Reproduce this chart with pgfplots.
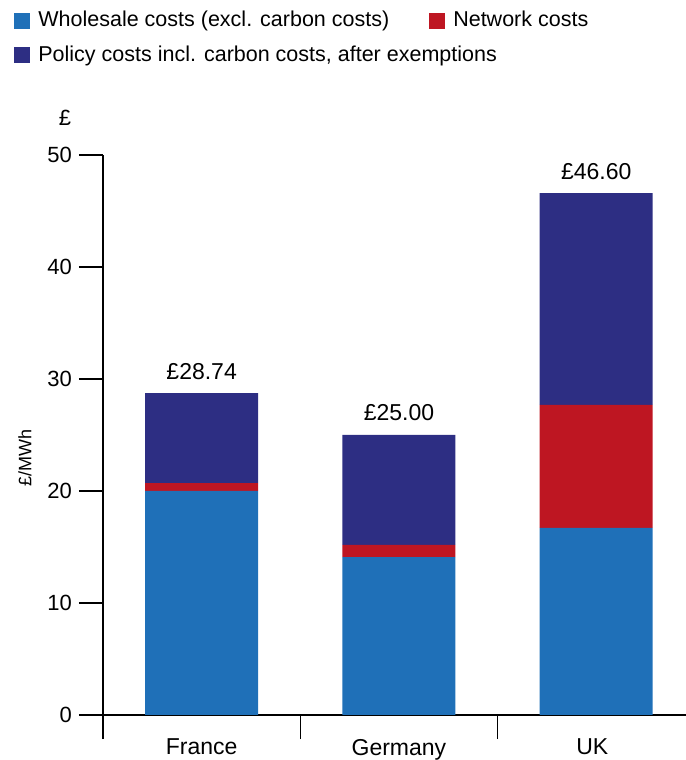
\documentclass[border=0pt]{standalone}
\usepackage{pgfplots}
\pgfplotsset{compat=1.18}
\usepackage{fontspec}
\setmainfont{Liberation Sans}

\definecolor{wholesale}{RGB}{31,112,184}
\definecolor{network}{RGB}{190,22,34}
\definecolor{policy}{RGB}{45,46,131}

\begin{document}
\begin{tikzpicture}
  \begin{axis}[name=ax,
    width=292pt, height=280pt, scale only axis,
    ybar stacked, bar width=56.5pt,
    xmin=-0.5, xmax=2.46, ymin=0, ymax=50,
    axis x line=bottom, axis y line=left,
    axis line style={-, black, line width=0.6pt},
    tick align=outside, major tick length=12pt,
    tick style={black, line width=0.6pt},
    ytick={0,10,...,50},
    xtick={-0.5,0.5,1.5,2.46}, x tick label as interval,
    xticklabels={France, Germany, UK},
    /pgf/number format/assume math mode=true,
    ticklabel style={font=\fontsize{11}{13}\selectfont},
    xticklabel style={font=\fontsize{11.5}{13}\selectfont, yshift=3.5pt},
    ylabel={£/MWh},
    ylabel style={at={(axis description cs:-0.1336,0.459)}, anchor=center,
      font=\fontsize{9}{11}\selectfont},
    legend columns=2,
    legend cell align=left,
    legend image code/.code={\fill[#1] (0pt,-4pt) rectangle (8pt,4pt);},
    legend style={draw=none, inner sep=0pt, row sep=4pt,
      at={(axis description cs:-0.1524,1.2643)}, anchor=north west,
      font=\fontsize{10.75}{13}\selectfont,
      nodes={inner xsep=4pt, inner ysep=2pt},
      /tikz/every even column/.append style={column sep=16pt}},
    clip=false,
  ]
    \addplot[fill=wholesale, draw=none] coordinates {(0,20.0) (1,14.1) (2,16.7)};
    \addplot[fill=network, draw=none] coordinates {(0,0.7) (1,1.1) (2,11.0)};
    \addplot[fill=policy, draw=none] coordinates {(0,8.04) (1,9.8) (2,18.9)};
    \legend{Wholesale costs (excl. carbon costs), Network costs,
      \makebox[0pt][l]{Policy costs incl. carbon costs, after exemptions}}
    \node[font=\fontsize{11}{13}\selectfont] at (axis description cs:-0.065,1.066) {£};
  \end{axis}
  % totals above the bars
  \begin{axis}[
    width=292pt, height=280pt, scale only axis,
    xmin=-0.5, xmax=2.46, ymin=0, ymax=50,
    hide axis, clip=false,
  ]
    \addplot[draw=none, mark=none, nodes near coords, point meta=explicit symbolic,
      nodes near coords style={anchor=base, inner sep=0pt, yshift=7pt,
        font=\fontsize{11.5}{13}\selectfont, black}]
      coordinates {(0,28.74) [£28.74] (1,25.00) [£25.00] (2,46.60) [£46.60]};
  \end{axis}
  \pgfresetboundingbox
  \path[use as bounding box] ([shift={(-51.5pt,-22.5pt)}]ax.south west)
    rectangle ([shift={(-0.6pt,77.5pt)}]ax.north east);
\end{tikzpicture}
\end{document}
